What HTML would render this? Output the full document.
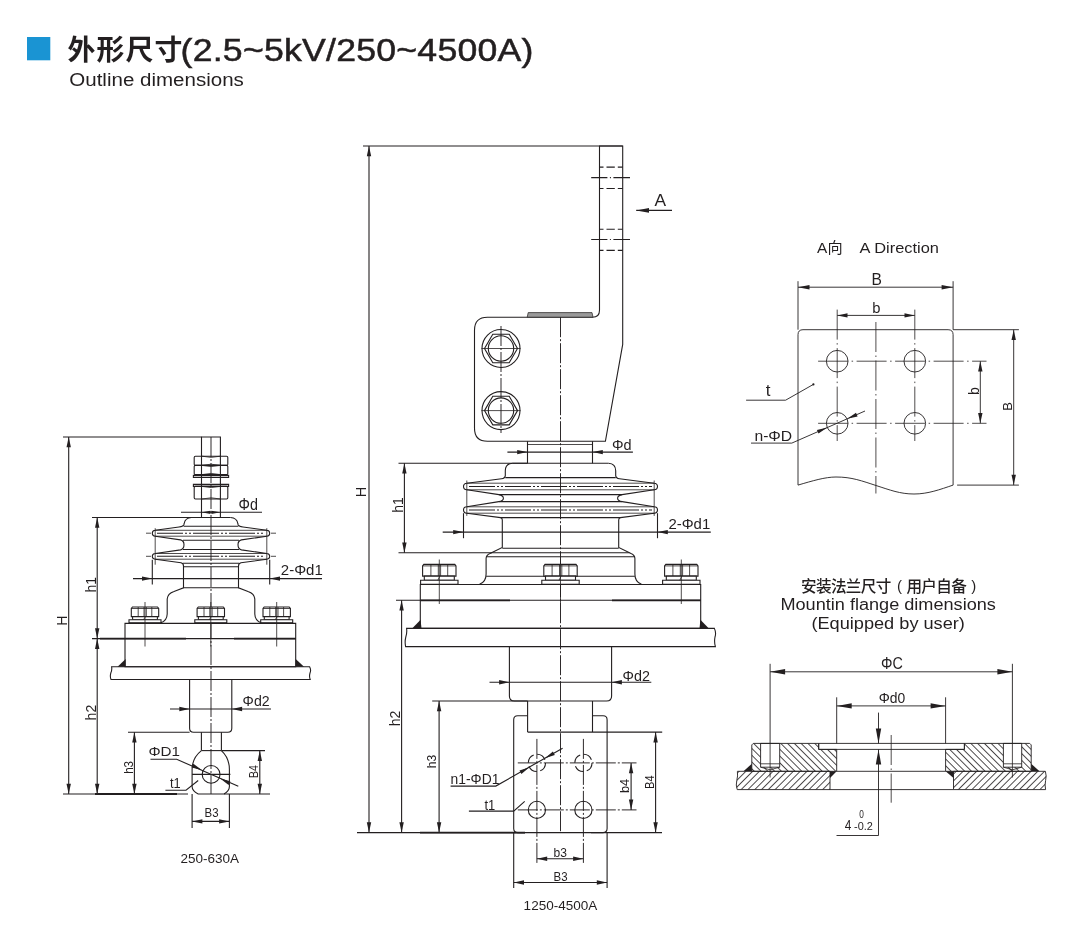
<!DOCTYPE html>
<html><head><meta charset="utf-8"><title>Outline dimensions</title>
<style>
html,body{margin:0;padding:0;background:#fff}
body{width:1068px;height:940px;overflow:hidden;font-family:"Liberation Sans",sans-serif}
svg{display:block;will-change:transform}
svg text{font-family:"Liberation Sans",sans-serif;fill:#231f20}
svg text.cjk{font-family:"Liberation Sans","Noto Sans CJK SC",sans-serif}
.l{fill:none;stroke:#231f20;stroke-width:1.1}
.t{fill:none;stroke:#231f20;stroke-width:.8}
.k{fill:none;stroke:#231f20;stroke-width:1.8}
.c{fill:none;stroke:#231f20;stroke-width:.95;stroke-dasharray:20 2 2 2}
.c2{fill:none;stroke:#231f20;stroke-width:1.1;stroke-dasharray:26 2 2 2 2 2}
.d{fill:none;stroke:#231f20;stroke-width:.8;stroke-dasharray:6.5 2.5}
.f{fill:#231f20;stroke:none}
.R .l{stroke-width:.9}
.R .c{stroke-width:.8;stroke-dasharray:30 3.5 1.5 3.5}
.w{fill:#fff;stroke:#231f20;stroke-width:1.1}
.g{fill:#9a9a9a;stroke:#231f20;stroke-width:.7}
</style></head>
<body>
<svg width="1068" height="940" viewBox="0 0 1068 940">
<defs>
<pattern id="hA" width="4.8" height="4.8" patternUnits="userSpaceOnUse" patternTransform="rotate(45)"><path d="M2.4 0V4.8" stroke="#231f20" stroke-width=".8"/></pattern>
<pattern id="hB" width="4.8" height="4.8" patternUnits="userSpaceOnUse" patternTransform="rotate(-45)"><path d="M2.4 0V4.8" stroke="#231f20" stroke-width=".8"/></pattern>
</defs>
<rect x="27" y="37" width="23.3" height="23.3" fill="#1a94d3"/>
<text class="cjk" x="67.6" y="60" font-size="27.9" font-weight="bold" text-anchor="start" textLength="114.75" lengthAdjust="spacing">外形尺寸</text>
<text transform="translate(180.6 60.9) scale(1.15 1)" font-size="31" letter-spacing=".2" stroke="#231f20" stroke-width=".5">(2.5~5kV/250~4500A)</text>
<text transform="translate(69.3 85.7)" font-size="17.5" text-anchor="start" textLength="174.5" lengthAdjust="spacingAndGlyphs">Outline dimensions</text>
<path class="l" d="M63.0 437.0L201.5 437.0"/>
<path class="l" d="M68.7 437.0L68.7 794.0"/>
<path class="f" d="M68.7 437.0L70.9 447.3L66.5 447.3Z"/>
<path class="f" d="M68.7 794.0L66.5 783.7L70.9 783.7Z"/>
<text transform="translate(66.6 620.6) rotate(-90)" font-size="14" text-anchor="middle">H</text>
<path class="l" d="M92.0 517.5L201.0 517.5"/>
<path class="l" d="M97.2 517.5L97.2 638.6"/>
<path class="f" d="M97.2 517.5L99.4 527.8L95.0 527.8Z"/>
<path class="f" d="M97.2 638.6L95.0 628.3L99.4 628.3Z"/>
<text transform="translate(96.0 584.7) rotate(-90)" font-size="14" text-anchor="middle">h1</text>
<path class="l" d="M97.2 638.6L97.2 794.0"/>
<path class="f" d="M97.2 638.6L99.4 648.9L95.0 648.9Z"/>
<path class="f" d="M97.2 794.0L95.0 783.7L99.4 783.7Z"/>
<text transform="translate(96.0 712.6) rotate(-90)" font-size="14" text-anchor="middle">h2</text>
<path class="l" d="M92.0 638.6L296.0 638.6"/>
<path class="k" d="M100.0 638.6L186.0 638.6"/>
<path class="k" d="M234.0 638.6L296.0 638.6"/>
<path class="l" d="M63.0 794.0L188.0 794.0"/>
<path class="k" d="M95.0 794.0L177.0 794.0"/>
<path class="l" d="M128.0 732.3L189.6 732.3"/>
<path class="l" d="M134.4 732.3L134.4 794.0"/>
<path class="f" d="M134.4 732.3L136.6 742.6L132.2 742.6Z"/>
<path class="f" d="M134.4 794.0L132.2 783.7L136.6 783.7Z"/>
<text transform="translate(133.0 767.4) rotate(-90)" font-size="12.6" text-anchor="middle" textLength="12.8" lengthAdjust="spacingAndGlyphs">h3</text>
<path class="c" d="M211.0 437.0L211.0 794.0"/>
<path class="l" d="M201.5 517.5V437H220.4V517.5"/>
<path class="l" d="M195.4 456.2H226.6Q227.8 456.2 227.8 457.4V464.2Q227.8 465.4 226.6 465.4H195.4Q194.2 465.4 194.2 464.2V457.4Q194.2 456.2 195.4 456.2Z"/>
<path class="t" d="M202 456.2Q211 458.59999999999997 220.4 456.2M202 465.4Q211 463.0 220.4 465.4"/>
<path class="l" d="M195.4 465.4H226.6Q227.8 465.4 227.8 466.59999999999997V473.40000000000003Q227.8 474.6 226.6 474.6H195.4Q194.2 474.6 194.2 473.40000000000003V466.59999999999997Q194.2 465.4 195.4 465.4Z"/>
<path class="t" d="M202 465.4Q211 467.79999999999995 220.4 465.4M202 474.6Q211 472.20000000000005 220.4 474.6"/>
<path class="l" d="M195.4 486.4H226.6Q227.8 486.4 227.8 487.59999999999997V497.8Q227.8 499 226.6 499H195.4Q194.2 499 194.2 497.8V487.59999999999997Q194.2 486.4 195.4 486.4Z"/>
<path class="t" d="M202 486.4Q211 488.79999999999995 220.4 486.4M202 499Q211 496.6 220.4 499"/>
<path class="l" d="M193.4 475.4H228.6V477.4H193.4Z"/>
<path class="l" d="M193.4 484.4H228.6V486.4H193.4Z"/>
<path class="l" d="M181.0 512.3L262.0 512.3"/>
<path class="f" d="M201.5 512.3L210.5 510.7L210.5 513.9Z"/>
<path class="f" d="M220.4 512.3L211.4 513.9L211.4 510.7Z"/>
<text transform="translate(238.6 509.5)" font-size="15.6" text-anchor="start" textLength="19.4" lengthAdjust="spacingAndGlyphs">Φd</text>
<path class="l" d="M191.5 517.5Q185.0 518 184.2 523.5L183.8 525Q183.0 526.4 179.0 527L155.2 530.3Q152.3 530.6 152.3 533.2Q152.3 535.9 155.2 536.2L180.5 539.9Q184.0 540.6 184.0 544.8Q184.0 549 180.5 549.9L155.2 553.5Q152.3 553.8 152.3 556.3Q152.3 558.9 155.2 559.2L181.0 562.8Q183.5 563.4 183.5 566V587.8L174.0 591.4Q167.6 593.4 167.2 599V614Q167.0 621 160.5 622.9"/>
<path class="l" d="M230.5 517.5Q237.0 518 237.8 523.5L238.2 525Q239.0 526.4 243.0 527L266.8 530.3Q269.7 530.6 269.7 533.2Q269.7 535.9 266.8 536.2L241.5 539.9Q238.0 540.6 238.0 544.8Q238.0 549 241.5 549.9L266.8 553.5Q269.7 553.8 269.7 556.3Q269.7 558.9 266.8 559.2L241.0 562.8Q238.5 563.4 238.5 566V587.8L248.0 591.4Q254.4 593.4 254.8 599V614Q255.0 621 261.5 622.9"/>
<path class="l" d="M191.5 517.5L230.5 517.5"/>
<path class="l" d="M183.6 526.2L238.4 526.2"/>
<path class="t" d="M155.2 530.3L266.8 530.3"/>
<path class="t" d="M155.2 536.2L266.8 536.2"/>
<path class="l" d="M183.0 540.2L239.0 540.2"/>
<path class="l" d="M183.0 549.5L239.0 549.5"/>
<path class="t" d="M155.2 553.5L266.8 553.5"/>
<path class="t" d="M155.2 559.2L266.8 559.2"/>
<path class="l" d="M183.0 563.2L239.0 563.2"/>
<path class="l" d="M183.5 566.8L238.5 566.8"/>
<path class="l" d="M183.5 587.8L238.5 587.8"/>
<path class="c2" d="M157.0 533.2L265.0 533.2"/>
<path class="c2" d="M157.0 556.3L265.0 556.3"/>
<path class="t" d="M146.0 533.2L151.0 533.2"/>
<path class="t" d="M271.0 533.2L276.0 533.2"/>
<path class="t" d="M146.0 556.3L151.0 556.3"/>
<path class="t" d="M271.0 556.3L276.0 556.3"/>
<path class="t" d="M155.2 528.2L155.2 564.7"/>
<path class="t" d="M266.8 528.2L266.8 564.7"/>
<path class="l" d="M152.3 559.8L152.3 584.4"/>
<path class="l" d="M269.7 559.8L269.7 584.4"/>
<path class="l" d="M133.0 578.6L322.0 578.6"/>
<path class="f" d="M152.3 578.6L142.0 580.8L142.0 576.4Z"/>
<path class="f" d="M269.7 578.6L280.0 576.4L280.0 580.8Z"/>
<text transform="translate(280.8 574.6)" font-size="15.3" text-anchor="start" textLength="42.0" lengthAdjust="spacingAndGlyphs">2-Φd1</text>
<path class="w" d="M132.5 607H157.5L158.7 608.5V616.6H131.3V608.5Z"/>
<path class="t" d="M138.2 607.0L138.2 616.6"/>
<path class="t" d="M144.0 607.0L144.0 616.6"/>
<path class="t" d="M146.3 607.0L146.3 616.6"/>
<path class="t" d="M151.8 607.0L151.8 616.6"/>
<path class="t" d="M131.3 608.5L158.7 608.5"/>
<path class="w" d="M132.6 616.6H157.4V619.7H132.6Z"/>
<path class="w" d="M129.0 619.7H161.0V622.9000000000001H129.0Z"/>
<path class="t" d="M143.5 619.7L145.5 616.6"/>
<path class="t" d="M145.0 602.0L145.0 646.5"/>
<path class="w" d="M198.3 607H223.3L224.5 608.5V616.6H197.1V608.5Z"/>
<path class="t" d="M204.0 607.0L204.0 616.6"/>
<path class="t" d="M209.8 607.0L209.8 616.6"/>
<path class="t" d="M212.1 607.0L212.1 616.6"/>
<path class="t" d="M217.7 607.0L217.7 616.6"/>
<path class="t" d="M197.1 608.5L224.5 608.5"/>
<path class="w" d="M198.4 616.6H223.2V619.7H198.4Z"/>
<path class="w" d="M194.8 619.7H226.8V622.9000000000001H194.8Z"/>
<path class="t" d="M209.3 619.7L211.3 616.6"/>
<path class="t" d="M210.8 602.0L210.8 646.5"/>
<path class="w" d="M264.2 607H289.2L290.4 608.5V616.6H263.0V608.5Z"/>
<path class="t" d="M269.8 607.0L269.8 616.6"/>
<path class="t" d="M275.7 607.0L275.7 616.6"/>
<path class="t" d="M278.0 607.0L278.0 616.6"/>
<path class="t" d="M283.6 607.0L283.6 616.6"/>
<path class="t" d="M263.0 608.5L290.4 608.5"/>
<path class="w" d="M264.3 616.6H289.1V619.7H264.3Z"/>
<path class="w" d="M260.7 619.7H292.7V622.9000000000001H260.7Z"/>
<path class="t" d="M275.2 619.7L277.2 616.6"/>
<path class="t" d="M276.7 602.0L276.7 646.5"/>
<path class="l" d="M125 623.4H295.7V666.7H125Z"/>
<path class="f" d="M117.5 666.7H125.7V658.9Z"/>
<path class="f" d="M295.7 658.9V666.7H304Z"/>
<path class="l" d="M111.6 666.7H309.6Q311.4 670 310 673Q309 676.5 310.2 679.5H111Q109.8 676.5 110.8 673Q112.2 670 111.6 666.7Z"/>
<path class="l" d="M189.6 679.5V728.3Q189.6 732.3 193.6 732.3H227.8Q231.8 732.3 231.8 728.3V679.5"/>
<path class="l" d="M170.0 709.0L271.0 709.0"/>
<path class="f" d="M189.6 709.0L179.3 711.2L179.3 706.8Z"/>
<path class="f" d="M231.8 709.0L242.1 706.8L242.1 711.2Z"/>
<text transform="translate(242.6 706.4)" font-size="15.5" text-anchor="start" textLength="27.0" lengthAdjust="spacingAndGlyphs">Φd2</text>
<path class="l" d="M201.4 732.3V750.6M221.4 732.3V750.6"/>
<path class="l" d="M201.4 750.6Q192.1 758 192.1 769.5V786.6Q192.1 791 198.2 794H224Q229.4 791 229.4 786.6V769.5Q229.4 758 221.4 750.6"/>
<path class="l" d="M201.4 750.6L221.4 750.6"/>
<path class="l" d="M192.1 774.4L230.4 774.4"/>
<circle class="l" cx="211.1" cy="774.4" r="8.9"/>
<path class="l" d="M221.4 750.6L265.0 750.6"/>
<path class="l" d="M224.0 794.0L270.0 794.0"/>
<path class="l" d="M259.8 750.6L259.8 794.0"/>
<path class="f" d="M259.8 750.6L262.0 760.9L257.6 760.9Z"/>
<path class="f" d="M259.8 794.0L257.6 783.7L262.0 783.7Z"/>
<text transform="translate(258.0 771.5) rotate(-90)" font-size="12.8" text-anchor="middle" textLength="13.0" lengthAdjust="spacingAndGlyphs">B4</text>
<path class="l" d="M150.5 759.3H176.7L238.3 786.3"/>
<path class="f" d="M201.8 770.1L191.6 767.5L193.4 763.8Z"/>
<path class="f" d="M220.2 778.6L230.4 781.2L228.6 784.9Z"/>
<text transform="translate(148.4 756.4)" font-size="12.6" text-anchor="start" textLength="31.6" lengthAdjust="spacingAndGlyphs">ΦD1</text>
<path class="l" d="M165.4 790.2H186L198.2 780.5"/>
<text transform="translate(170.0 787.8)" font-size="14" text-anchor="start" textLength="10.7" lengthAdjust="spacingAndGlyphs">t1</text>
<path class="l" d="M192.1 794.0L192.1 828.0"/>
<path class="l" d="M229.4 794.0L229.4 828.0"/>
<path class="l" d="M192.1 821.4L229.4 821.4"/>
<path class="f" d="M192.1 821.4L202.4 819.2L202.4 823.6Z"/>
<path class="f" d="M229.4 821.4L219.1 823.6L219.1 819.2Z"/>
<text transform="translate(211.6 817.2)" font-size="12.8" text-anchor="middle" textLength="14.0" lengthAdjust="spacingAndGlyphs">B3</text>
<text transform="translate(209.7 863.3)" font-size="13.5" text-anchor="middle">250-630A</text>
<path class="l" d="M363.0 146.0L622.7 146.0"/>
<path class="l" d="M369.0 146.0L369.0 832.6"/>
<path class="f" d="M369.0 146.0L371.2 156.3L366.8 156.3Z"/>
<path class="f" d="M369.0 832.6L366.8 822.3L371.2 822.3Z"/>
<text transform="translate(366.4 492.0) rotate(-90)" font-size="15.3" text-anchor="middle" textLength="10.4" lengthAdjust="spacingAndGlyphs">H</text>
<path class="l" d="M599.5 146H622.7V344.4L605.4 441.3H487.5Q474.5 441.3 474.5 428.3V330.2Q474.5 317.2 487.5 317.2H592.5Q599.5 317.2 599.5 310.2Z"/>
<path class="l" stroke-dasharray="4 3 8.3 3 5" d="M599.5 167.1H622.7"/>
<path class="l" stroke-dasharray="4 3 8.3 3 5" d="M599.5 188.5H622.7"/>
<path class="l" stroke-dasharray="4 3 8.3 3 5" d="M599.5 229.3H622.7"/>
<path class="l" stroke-dasharray="4 3 8.3 3 5" d="M599.5 250.4H622.7"/>
<path class="l" stroke-dasharray="16.2 2.5 1 2.5 17" d="M591.2 177.6H630"/>
<path class="l" stroke-dasharray="16.2 2.5 1 2.5 17" d="M591.2 239.5H630"/>
<path class="l" d="M636.2 210.4L672.0 210.4"/>
<path class="f" d="M636.2 210.4L649.0 208.1L649.0 212.7Z"/>
<text transform="translate(660.3 206.4)" font-size="15.8" text-anchor="middle" textLength="11.6" lengthAdjust="spacingAndGlyphs">A</text>
<path class="g" d="M528.2 312.6H592L593 317.2H527.2Z"/>
<circle class="l" cx="501" cy="348.5" r="19"/>
<circle class="l" cx="501" cy="348.5" r="12.7"/>
<polygon class="l" points="517.5,348.5 509.2,362.8 492.8,362.8 484.5,348.5 492.8,334.2 509.2,334.2"/>
<path class="t" d="M481.5 348.5L520.5 348.5"/>
<circle class="l" cx="501" cy="410.6" r="19"/>
<circle class="l" cx="501" cy="410.6" r="12.7"/>
<polygon class="l" points="517.5,410.6 509.2,424.9 492.8,424.9 484.5,410.6 492.8,396.3 509.2,396.3"/>
<path class="t" d="M481.5 410.6L520.5 410.6"/>
<path class="c" d="M501.0 326.0L501.0 433.0"/>
<path class="c" d="M560.5 317.2L560.5 832.6"/>
<path class="l" d="M527.5 441.3V463.2M592.5 441.3V463.2"/>
<path class="t" d="M527.5 444.5L592.5 444.5"/>
<path class="l" d="M507.4 452.1L632.9 452.1"/>
<path class="f" d="M527.5 452.1L517.2 454.3L517.2 449.9Z"/>
<path class="f" d="M592.5 452.1L602.8 449.9L602.8 454.3Z"/>
<text transform="translate(612.0 450.3)" font-size="15.4" text-anchor="start" textLength="19.6" lengthAdjust="spacingAndGlyphs">Φd</text>
<path class="l" d="M398.5 463.2L527.5 463.2"/>
<path class="l" d="M398.5 552.8L492.0 552.8"/>
<path class="l" d="M404.4 463.2L404.4 552.8"/>
<path class="f" d="M404.4 463.2L406.6 473.5L402.2 473.5Z"/>
<path class="f" d="M404.4 552.8L402.2 542.5L406.6 542.5Z"/>
<text transform="translate(402.8 505.0) rotate(-90)" font-size="14" text-anchor="middle">h1</text>
<path class="l" d="M512.5 463.2Q505.3 463.6 505.3 470.8V475.6Q505.0 478.4 501.5 478.8L466.8 483.2Q463.5 483.5 463.5 486.5Q463.5 489.5 466.8 489.8L498.9 494.6Q503.4 495.6 503.4 498.2Q503.4 500.8 498.9 501.6L466.8 506.8Q463.5 507.1 463.5 510Q463.5 512.9 466.8 513.2L500.6 517.6Q502.3 518 502.3 520V547.4L490.0 553.4Q486.1 555 486.1 558.5V574Q486.1 582 479.5 584.3"/>
<path class="l" d="M608.5 463.2Q615.7 463.6 615.7 470.8V475.6Q616.0 478.4 619.5 478.8L654.2 483.2Q657.5 483.5 657.5 486.5Q657.5 489.5 654.2 489.8L622.1 494.6Q617.6 495.6 617.6 498.2Q617.6 500.8 622.1 501.6L654.2 506.8Q657.5 507.1 657.5 510Q657.5 512.9 654.2 513.2L620.4 517.6Q618.7 518 618.7 520V547.4L631.0 553.4Q634.9 555 634.9 558.5V574Q634.9 582 641.5 584.3"/>
<path class="l" d="M512.5 463.2L608.5 463.2"/>
<path class="l" d="M505.3 477.6L615.7 477.6"/>
<path class="t" d="M466.8 483.2L654.2 483.2"/>
<path class="t" d="M466.8 489.8L654.2 489.8"/>
<path class="l" d="M499.0 494.6L622.0 494.6"/>
<path class="l" d="M499.0 501.6L622.0 501.6"/>
<path class="t" d="M466.8 506.8L654.2 506.8"/>
<path class="t" d="M466.8 513.2L654.2 513.2"/>
<path class="l" d="M500.6 517.6L620.4 517.6"/>
<path class="l" d="M502.3 548.2L618.7 548.2"/>
<path class="l" d="M491.5 552.8L629.5 552.8"/>
<path class="l" d="M486.6 556.7L634.4 556.7"/>
<path class="l" d="M486.1 576.3L634.9 576.3"/>
<path class="c2" d="M469.0 486.5L652.0 486.5"/>
<path class="c2" d="M469.0 510.0L652.0 510.0"/>
<path class="t" d="M466.8 480.5L466.8 515.9"/>
<path class="t" d="M654.2 480.5L654.2 515.9"/>
<path class="l" d="M463.5 513.2L463.5 538.2"/>
<path class="l" d="M657.5 513.2L657.5 538.2"/>
<path class="l" d="M442.7 532.1L710.8 532.1"/>
<path class="f" d="M463.5 532.1L453.2 534.3L453.2 529.9Z"/>
<path class="f" d="M657.5 532.1L667.8 529.9L667.8 534.3Z"/>
<text transform="translate(668.4 528.9)" font-size="13.8" text-anchor="start" textLength="41.8" lengthAdjust="spacingAndGlyphs">2-Φd1</text>
<path class="w" d="M423.8 564.4H454.8L456.0 565.9V576.1H422.6V565.9Z"/>
<path class="t" d="M430.9 564.4L430.9 576.1"/>
<path class="t" d="M438.3 564.4L438.3 576.1"/>
<path class="t" d="M440.6 564.4L440.6 576.1"/>
<path class="t" d="M447.7 564.4L447.7 576.1"/>
<path class="t" d="M422.6 565.9L456.0 565.9"/>
<path class="w" d="M424.3 576.1H454.3V580.3000000000001H424.3Z"/>
<path class="w" d="M420.6 580.3000000000001H458.0V584.3000000000001H420.6Z"/>
<path class="t" d="M437.8 580.3L439.8 576.1"/>
<path class="t" d="M439.3 559.5L439.3 604.0"/>
<path class="w" d="M545.0 564.4H576.0L577.2 565.9V576.1H543.8V565.9Z"/>
<path class="t" d="M552.1 564.4L552.1 576.1"/>
<path class="t" d="M559.5 564.4L559.5 576.1"/>
<path class="t" d="M561.8 564.4L561.8 576.1"/>
<path class="t" d="M568.9 564.4L568.9 576.1"/>
<path class="t" d="M543.8 565.9L577.2 565.9"/>
<path class="w" d="M545.5 576.1H575.5V580.3000000000001H545.5Z"/>
<path class="w" d="M541.8 580.3000000000001H579.2V584.3000000000001H541.8Z"/>
<path class="t" d="M559.0 580.3L561.0 576.1"/>
<path class="t" d="M560.5 559.5L560.5 604.0"/>
<path class="w" d="M665.8 564.4H696.8L698.0 565.9V576.1H664.6V565.9Z"/>
<path class="t" d="M672.9 564.4L672.9 576.1"/>
<path class="t" d="M680.3 564.4L680.3 576.1"/>
<path class="t" d="M682.6 564.4L682.6 576.1"/>
<path class="t" d="M689.6 564.4L689.6 576.1"/>
<path class="t" d="M664.6 565.9L698.0 565.9"/>
<path class="w" d="M666.3 576.1H696.3V580.3000000000001H666.3Z"/>
<path class="w" d="M662.6 580.3000000000001H700.0V584.3000000000001H662.6Z"/>
<path class="t" d="M679.8 580.3L681.8 576.1"/>
<path class="t" d="M681.3 559.5L681.3 604.0"/>
<path class="l" d="M420.3 584.5H700.7V628.4H420.3Z"/>
<path class="l" d="M396.0 600.3L700.7 600.3"/>
<path class="k" d="M420.3 600.3L510.0 600.3"/>
<path class="k" d="M612.0 600.3L700.7 600.3"/>
<path class="f" d="M412.1 628.4H421.5L420.6 619.8Z"/>
<path class="f" d="M708.9 628.4H699.5L700.4 619.8Z"/>
<path class="l" d="M406.6 628.4H714.4Q716.4 633 715 637Q714 642 715.4 646.6H405.6Q404.6 642 405.8 637Q407.2 633 406.6 628.4Z"/>
<path class="l" d="M401.6 600.3L401.6 832.6"/>
<path class="f" d="M401.6 600.3L403.8 610.6L399.4 610.6Z"/>
<path class="f" d="M401.6 832.6L399.4 822.3L403.8 822.3Z"/>
<text transform="translate(400.0 718.5) rotate(-90)" font-size="14" text-anchor="middle">h2</text>
<path class="l" d="M509.4 646.6V696Q509.4 701 514.4 701H606.6Q611.6 701 611.6 696V646.6"/>
<path class="l" d="M489.5 682.3L651.3 682.3"/>
<path class="f" d="M509.4 682.3L499.1 684.5L499.1 680.1Z"/>
<path class="f" d="M611.6 682.3L621.9 680.1L621.9 684.5Z"/>
<text transform="translate(622.6 680.7)" font-size="13.8" text-anchor="start" textLength="27.4" lengthAdjust="spacingAndGlyphs">Φd2</text>
<path class="l" d="M432.2 701.0L527.6 701.0"/>
<path class="l" d="M439.1 701.0L439.1 832.6"/>
<path class="f" d="M439.1 701.0L441.3 711.3L436.9 711.3Z"/>
<path class="f" d="M439.1 832.6L436.9 822.3L441.3 822.3Z"/>
<text transform="translate(435.9 761.6) rotate(-90)" font-size="12.3" text-anchor="middle" textLength="13.4" lengthAdjust="spacingAndGlyphs">h3</text>
<path class="l" d="M527.6 715.7H517.7Q513.7 715.7 513.7 719.7V828.6Q513.7 832.6 517.7 832.6H603.1Q607.1 832.6 607.1 828.6V719.7Q607.1 715.7 603.1 715.7H592.5"/>
<path class="l" d="M527.6 701V732.1M592.5 701V732.1"/>
<path class="l" d="M527.6 732.1L662.2 732.1"/>
<path class="l" d="M357.0 832.6L525.0 832.6"/>
<path class="k" d="M420.0 832.6L525.0 832.6"/>
<path class="l" d="M591.0 832.6L662.0 832.6"/>
<path class="l" d="M655.6 732.1L655.6 832.6"/>
<path class="f" d="M655.6 732.1L657.8 742.4L653.4 742.4Z"/>
<path class="f" d="M655.6 832.6L653.4 822.3L657.8 822.3Z"/>
<text transform="translate(654.3 782.2) rotate(-90)" font-size="13.3" text-anchor="middle" textLength="13.6" lengthAdjust="spacingAndGlyphs">B4</text>
<path class="l" d="M631.1 762.9L631.1 809.9"/>
<path class="f" d="M631.1 762.9L633.3 773.2L628.9 773.2Z"/>
<path class="f" d="M631.1 809.9L628.9 799.6L633.3 799.6Z"/>
<text transform="translate(628.7 786.0) rotate(-90)" font-size="12.4" text-anchor="middle" textLength="14.2" lengthAdjust="spacingAndGlyphs">b4</text>
<circle class="l" cx="536.9" cy="762.9" r="8.6" stroke-dasharray="10 3.5"/>
<circle class="l" cx="536.9" cy="809.9" r="8.6"/>
<path class="c" d="M536.9 738.9L536.9 864.9"/>
<circle class="l" cx="583.4" cy="762.9" r="8.6" stroke-dasharray="10 3.5"/>
<circle class="l" cx="583.4" cy="809.9" r="8.6"/>
<path class="c" d="M583.4 738.9L583.4 864.9"/>
<path class="c" d="M517.8 762.9L636.5 762.9"/>
<path class="c" d="M517.8 809.9L636.5 809.9"/>
<path class="l" d="M450.6 786.1H495.8L562.6 748.2"/>
<path class="f" d="M529.4 767.2L521.4 774.0L519.5 770.5Z"/>
<path class="f" d="M544.9 758.3L552.9 751.5L554.8 755.0Z"/>
<text transform="translate(450.6 783.5)" font-size="14" text-anchor="start" textLength="48.8" lengthAdjust="spacingAndGlyphs">n1-ΦD1</text>
<path class="l" d="M468.9 811.1H513.7L524.7 801.3"/>
<text transform="translate(484.4 810.0)" font-size="14" text-anchor="start" textLength="10.8" lengthAdjust="spacingAndGlyphs">t1</text>
<path class="l" d="M536.9 858.8L583.4 858.8"/>
<path class="f" d="M536.9 858.8L547.2 856.6L547.2 861.0Z"/>
<path class="f" d="M583.4 858.8L573.1 861.0L573.1 856.6Z"/>
<text transform="translate(560.2 857.0)" font-size="12.4" text-anchor="middle" textLength="13.4" lengthAdjust="spacingAndGlyphs">b3</text>
<path class="l" d="M513.7 832.6L513.7 888.0"/>
<path class="l" d="M607.1 832.6L607.1 888.0"/>
<path class="l" d="M513.7 882.5L607.1 882.5"/>
<path class="f" d="M513.7 882.5L524.0 880.3L524.0 884.7Z"/>
<path class="f" d="M607.1 882.5L596.8 884.7L596.8 880.3Z"/>
<text transform="translate(560.6 880.8)" font-size="12.8" text-anchor="middle" textLength="14.0" lengthAdjust="spacingAndGlyphs">B3</text>
<text transform="translate(560.4 909.7)" font-size="13.5" text-anchor="middle">1250-4500A</text>
<g class="R">
<text transform="translate(817.0 253.4)" font-size="15.4" text-anchor="start">A</text>
<text class="cjk" x="827.6" y="253.2" font-size="15.2" text-anchor="start">向</text>
<text transform="translate(859.6 253.4)" font-size="15.4" text-anchor="start" textLength="79.3" lengthAdjust="spacingAndGlyphs">A Direction</text>
<path class="l" d="M798 485.1V334.7Q798 329.7 803 329.7H948.1Q953.1 329.7 953.1 334.7V485.1"/>
<path class="l" d="M798 485.1C812 481 825 477 836 477C852 477 862 481 876 485.5C890 490 900 494 914 494C928 494 940 489.5 953.1 485.1"/>
<path class="l" d="M798.0 281.2L798.0 329.7"/>
<path class="l" d="M953.1 281.2L953.1 329.7"/>
<path class="l" d="M798.0 287.2L953.1 287.2"/>
<path class="f" d="M798.0 287.2L809.5 284.9L809.5 289.5Z"/>
<path class="f" d="M953.1 287.2L941.6 289.5L941.6 284.9Z"/>
<text transform="translate(876.6 284.6)" font-size="17.2" text-anchor="middle" textLength="10.4" lengthAdjust="spacingAndGlyphs">B</text>
<path class="l" d="M837.2 315.4L914.8 315.4"/>
<path class="f" d="M837.2 315.4L847.5 313.2L847.5 317.6Z"/>
<path class="f" d="M914.8 315.4L904.5 317.6L904.5 313.2Z"/>
<text transform="translate(876.4 313.0)" font-size="15" text-anchor="middle" textLength="8.2" lengthAdjust="spacingAndGlyphs">b</text>
<circle class="l" cx="837.2" cy="361.2" r="10.8"/>
<circle class="l" cx="837.2" cy="423.3" r="10.8"/>
<path class="c" d="M837.2 309.6L837.2 441.0"/>
<circle class="l" cx="914.8" cy="361.2" r="10.8"/>
<circle class="l" cx="914.8" cy="423.3" r="10.8"/>
<path class="c" d="M914.8 309.6L914.8 441.0"/>
<path class="c" d="M818.1 361.2L986.5 361.2"/>
<path class="c" d="M818.1 423.3L986.5 423.3"/>
<path class="c" d="M875.9 322.0L875.9 493.5"/>
<path class="l" d="M980.3 361.2L980.3 423.3"/>
<path class="f" d="M980.3 361.2L982.5 371.5L978.1 371.5Z"/>
<path class="f" d="M980.3 423.3L978.1 413.0L982.5 413.0Z"/>
<text transform="translate(979.2 391.0) rotate(-90)" font-size="14" text-anchor="middle">b</text>
<path class="l" d="M953.1 329.7L1018.9 329.7"/>
<path class="l" d="M957.1 485.1L1018.9 485.1"/>
<path class="l" d="M1013.7 329.7L1013.7 485.1"/>
<path class="f" d="M1013.7 329.7L1015.9 340.0L1011.5 340.0Z"/>
<path class="f" d="M1013.7 485.1L1011.5 474.8L1015.9 474.8Z"/>
<text transform="translate(1012.4 406.3) rotate(-90)" font-size="13" text-anchor="middle">B</text>
<path class="l" d="M746.1 400.2H785.6L813.4 384.4"/>
<circle class="f" cx="813.4" cy="384.4" r="1.1"/>
<text transform="translate(765.8 396.3)" font-size="17" text-anchor="start">t</text>
<path class="l" d="M751 443.1H791.8L865 411"/>
<path class="f" d="M827.3 427.5L818.5 433.6L816.9 429.9Z"/>
<path class="f" d="M847.2 418.8L856.0 412.7L857.6 416.4Z"/>
<text transform="translate(754.4 440.5)" font-size="15.5" text-anchor="start" textLength="37.8" lengthAdjust="spacingAndGlyphs">n-ΦD</text>
<text class="cjk" x="801" y="591.6" font-size="15.6" font-weight="500" text-anchor="start" textLength="90.35" lengthAdjust="spacing">安装法兰尺寸</text>
<text transform="translate(899.6 591.0)" font-size="15" text-anchor="middle">(</text>
<text class="cjk" x="906.4" y="591.6" font-size="15.6" font-weight="500" text-anchor="start" textLength="60.45" lengthAdjust="spacing">用户自备</text>
<text transform="translate(973.8 591.0)" font-size="15" text-anchor="middle">)</text>
<text transform="translate(780.4 610.4)" font-size="16" text-anchor="start" textLength="215.5" lengthAdjust="spacingAndGlyphs">Mountin flange dimensions</text>
<text transform="translate(811.4 628.6)" font-size="16" text-anchor="start" textLength="153.5" lengthAdjust="spacingAndGlyphs">(Equipped by user)</text>
<path class="l" d="M770.1 663.8L770.1 743.4"/>
<path class="l" d="M1012.4 663.8L1012.4 743.4"/>
<path class="l" d="M770.1 671.8L1012.4 671.8"/>
<path class="f" d="M770.1 671.8L785.1 669.1L785.1 674.5Z"/>
<path class="f" d="M1012.4 671.8L997.4 674.5L997.4 669.1Z"/>
<text transform="translate(892.0 668.8)" font-size="16" text-anchor="middle" textLength="21.8" lengthAdjust="spacingAndGlyphs">ΦC</text>
<path class="l" d="M836.7 697.3L836.7 743.4"/>
<path class="l" d="M945.6 697.3L945.6 743.4"/>
<path class="l" d="M836.7 705.9L945.6 705.9"/>
<path class="f" d="M836.7 705.9L851.7 703.2L851.7 708.6Z"/>
<path class="f" d="M945.6 705.9L930.6 708.6L930.6 703.2Z"/>
<text transform="translate(892.0 702.7)" font-size="14.5" text-anchor="middle" textLength="26.5" lengthAdjust="spacingAndGlyphs">Φd0</text>
<path class="l" style="fill:url(#hB);fill-rule:evenodd" d="M753.3 743.4H818.7V749.4H836.7V771.3H751.8V744.9Z M760.6 743.4V767.2H779.7V743.4Z"/>
<path class="l" style="fill:url(#hB);fill-rule:evenodd" d="M964.4 743.4H1029.7L1031.2 744.9V771.3H945.6V749.4H964.4Z M1003.4 743.4V767.2H1021.7V743.4Z"/>
<path class="l" d="M818.7 743.4H964.4V749.4H818.7Z"/>
<path class="t" d="M760.6 767.2L770.2 769.8L779.7 767.2"/>
<path class="t" d="M760.6 763.8L779.7 763.8"/>
<path class="t" d="M1003.4 767.2L1012.5 769.8L1021.7 767.2"/>
<path class="t" d="M1003.4 763.8L1021.7 763.8"/>
<path class="l" style="fill:url(#hA)" d="M737.4 771.3H830V789.6H737.2Q735.6 785 736.8 780.5Q738 776 737.4 771.3Z"/>
<path class="l" style="fill:url(#hA)" d="M953.5 771.3H1045.4Q1046.8 776 1045.6 780.5Q1044.6 785 1045.6 789.6H953.5Z"/>
<path class="l" d="M836.7 771.3L945.6 771.3"/>
<path class="l" d="M830.0 789.6L953.5 789.6"/>
<path class="f" d="M743.5 771.3H751.8V763.8Z"/>
<path class="f" d="M1031.2 763.8V771.3H1039.5Z"/>
<path class="f" d="M830 771.3H836.7L830 778.1Z"/>
<path class="f" d="M945.6 771.3H953.5V778.1Z"/>
<path class="t" d="M770.1 743.4L770.1 777.5"/>
<path class="t" d="M1012.4 743.4L1012.4 777.5"/>
<path class="c" d="M891.2 735.0L891.2 802.7"/>
<path class="l" d="M878.5 712.6L878.5 743.4"/>
<path class="f" d="M878.5 743.4L875.8 728.4L881.2 728.4Z"/>
<path class="l" d="M878.5 749.4L878.5 835.5"/>
<path class="f" d="M878.5 749.4L881.2 764.4L875.8 764.4Z"/>
<path class="l" d="M836.5 835.5L878.5 835.5"/>
<text transform="translate(844.8 829.8)" font-size="15.4" text-anchor="start" textLength="6.6" lengthAdjust="spacingAndGlyphs">4</text>
<text transform="translate(859.3 818.0)" font-size="10" text-anchor="start" textLength="4.6" lengthAdjust="spacingAndGlyphs">0</text>
<text transform="translate(854.0 830.4)" font-size="10" text-anchor="start" textLength="18.8" lengthAdjust="spacingAndGlyphs">-0.2</text>
</g>
</svg>
</body></html>
